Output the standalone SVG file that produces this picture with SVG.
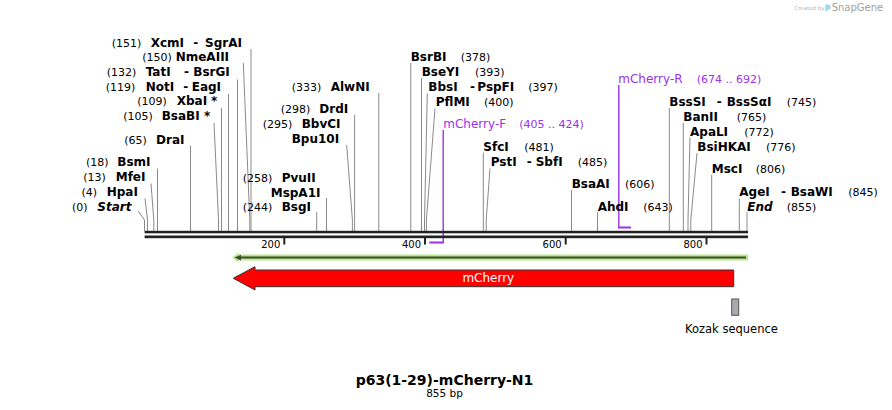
<svg xmlns="http://www.w3.org/2000/svg" width="892" height="410" viewBox="0 0 892 410">
<style>
text{font-family:"DejaVu Sans",Verdana,sans-serif;fill:#000}
.b{font-size:12px;font-weight:bold}
.n{font-size:11px;font-weight:normal}
.i{font-style:italic}
.p{fill:#9b30e8;font-weight:normal}
.cut{stroke:#8a8a8a;stroke-width:1;fill:none}
.pv{stroke:#9b30e8;stroke-width:1.4;fill:none}
.pb{stroke:#9b30e8;stroke-width:2;fill:none}
.tk{font-size:10px}
</style>
<rect width="892" height="410" fill="#fff"/>

<g id="watermark">
<text x="794.3" y="10" style="font-size:5.5px;fill:#b8b8b8">Created by</text>
<path d="M825.5 4.5 h2.5 a2.6 2.6 0 0 1 0 5.2 h-0.6 v1.8 h-1.9 z" fill="#9ad8f5"/>
<text x="831.7" y="11" style="font-size:10px;fill:#a0a0a0">SnapGene</text>
</g>

<g id="connectors">
<path class="cut" d="M138.3 211 L144.5 220 V231"/>
<path class="cut" d="M145 198.5 L147.5 220 V231"/>
<path class="cut" d="M151 183.5 L153.8 220 V231"/>
<path class="cut" d="M157.5 168.5 V231"/>
<path class="cut" d="M190.5 145.5 V231"/>
<path class="cut" d="M214 123 L218.5 220 V231"/>
<path class="cut" d="M221.5 108 V231"/>
<path class="cut" d="M228.5 94 V231"/>
<path class="cut" d="M237.5 79.5 V231"/>
<path class="cut" d="M243.3 63 L249.8 220 V231"/>
<path class="cut" d="M251 49 V231"/>
<path class="cut" d="M316.7 212 V231"/>
<path class="cut" d="M326.5 198 V231"/>
<path class="cut" d="M346.7 145 L352.4 220 V231"/>
<path class="cut" d="M354.6 115 V231"/>
<path class="cut" d="M378.8 93 V231"/>
<path class="cut" d="M410.8 63 V231"/>
<path class="cut" d="M421.5 78 V231"/>
<path class="cut" d="M427.3 93.5 L424.5 220 V231"/>
<path class="cut" d="M435 108.5 L426.4 220 V231"/>
<path class="cut" d="M483.3 152.5 V231"/>
<path class="cut" d="M490 168.5 L486.2 220 V231"/>
<path class="cut" d="M571.5 190 V231"/>
<path class="cut" d="M597.5 212 V231"/>
<path class="cut" d="M669.3 108 V231"/>
<path class="cut" d="M683.3 123 V231"/>
<path class="cut" d="M690 137.5 L688 220 V231"/>
<path class="cut" d="M697 153 L690.8 220 V231"/>
<path class="cut" d="M711.7 175 V231"/>
<path class="cut" d="M739.3 198.5 V231"/>
<path class="cut" d="M747 212 V231"/>
<path class="pv" d="M443.2 130 V242.5"/>
<path class="pb" d="M443.9 242.5 H429.3"/>
<path class="pv" d="M618.8 85 V227.5"/>
<path class="pb" d="M618.1 227.5 H631"/>
</g>

<g id="backbone">
<rect x="144.6" y="230.8" width="603.4" height="2.5" fill="#222"/>
<rect x="144.6" y="235.5" width="603.4" height="2.7" fill="#222"/>
<rect x="283.3" y="238" width="2" height="6.5" fill="#222"/>
<rect x="424" y="238" width="2" height="6.5" fill="#222"/>
<rect x="564.7" y="238" width="2" height="6.5" fill="#222"/>
<rect x="705.5" y="238" width="2" height="6.5" fill="#222"/>
<text class="tk" x="280.3" y="247.5" text-anchor="end">200</text>
<text class="tk" x="421" y="247.5" text-anchor="end">400</text>
<text class="tk" x="561.7" y="247.5" text-anchor="end">600</text>
<text class="tk" x="702.5" y="247.5" text-anchor="end">800</text>
</g>

<g id="XcmI"><text class="b" y="46.5"><tspan class="n" x="111.7">(151)</tspan><tspan x="150.7">XcmI</tspan><tspan x="193.3">-</tspan><tspan x="205">SgrAI</tspan></text></g>
<g id="NmeAIII"><text class="b" y="61"><tspan class="n" x="142.3">(150)</tspan><tspan x="175.7">NmeAIII</tspan></text></g>
<g id="TatI"><text class="b" y="76"><tspan class="n" x="106.7">(132)</tspan><tspan x="145.7">TatI</tspan><tspan x="184">-</tspan><tspan x="193.3">BsrGI</tspan></text></g>
<g id="NotI"><text class="b" y="90.8"><tspan class="n" x="105.7">(119)</tspan><tspan x="145.7">NotI</tspan><tspan x="183.3">-</tspan><tspan x="191.7">EagI</tspan></text></g>
<g id="XbaI"><text class="b" y="105.3"><tspan class="n" x="137.3">(109)</tspan><tspan x="176.7">XbaI</tspan><tspan x="211">*</tspan></text></g>
<g id="BsaBI"><text class="b" y="120.3"><tspan class="n" x="123.3">(105)</tspan><tspan x="161.7">BsaBI</tspan><tspan x="204">*</tspan></text></g>
<g id="DraI"><text class="b" y="143.5"><tspan class="n" x="124.3">(65)</tspan><tspan x="156">DraI</tspan></text></g>
<g id="BsmI"><text class="b" y="166.3"><tspan class="n" x="86">(18)</tspan><tspan x="117.3">BsmI</tspan></text></g>
<g id="MfeI"><text class="b" y="181"><tspan class="n" x="83.3">(13)</tspan><tspan x="115.7">MfeI</tspan></text></g>
<g id="HpaI"><text class="b" y="195.7"><tspan class="n" x="81.5">(4)</tspan><tspan x="106.7">HpaI</tspan></text></g>
<g id="Start"><text class="b" y="210.7"><tspan class="n" x="72">(0)</tspan><tspan class="i" x="97.3">Start</tspan></text></g>

<g id="AlwNI"><text class="b" y="90.8"><tspan class="n" x="291.7">(333)</tspan><tspan x="330.7">AlwNI</tspan></text></g>
<g id="DrdI"><text class="b" y="113.3"><tspan class="n" x="280.7">(298)</tspan><tspan x="319.3">DrdI</tspan></text></g>
<g id="BbvCI"><text class="b" y="128.2"><tspan class="n" x="262.7">(295)</tspan><tspan x="301.7">BbvCI</tspan></text></g>
<g id="Bpu10I"><text class="b" x="291.7" y="143.2">Bpu10I</text></g>
<g id="PvuII"><text class="b" y="181.7"><tspan class="n" x="242.7">(258)</tspan><tspan x="281.7">PvuII</tspan></text></g>
<g id="MspA1I"><text class="b" x="270.7" y="196.6">MspA1I</text></g>
<g id="BsgI"><text class="b" y="210.7"><tspan class="n" x="242.7">(244)</tspan><tspan x="281.7">BsgI</tspan></text></g>

<g id="BsrBI"><text class="b" y="60.7"><tspan x="410.7">BsrBI</tspan><tspan class="n" x="460.7">(378)</tspan></text></g>
<g id="BseYI"><text class="b" y="75.7"><tspan x="421.7">BseYI</tspan><tspan class="n" x="475">(393)</tspan></text></g>
<g id="BbsI"><text class="b" y="90.8"><tspan x="428.3">BbsI</tspan><tspan x="470">-</tspan><tspan x="477.3">PspFI</tspan><tspan class="n" x="528.3">(397)</tspan></text></g>
<g id="PflMI"><text class="b" y="105.7"><tspan x="435.7">PflMI</tspan><tspan class="n" x="484">(400)</tspan></text></g>
<g id="mCherry-F"><text class="b p" y="127.6"><tspan x="443.3">mCherry-F</tspan><tspan class="n p" x="519.3">(405 .. 424)</tspan></text></g>
<g id="SfcI"><text class="b" y="151"><tspan x="483.3">SfcI</tspan><tspan class="n" x="524.3">(481)</tspan></text></g>
<g id="PstI"><text class="b" y="166.2"><tspan x="490.7">PstI</tspan><tspan x="526.7">-</tspan><tspan x="535.7">SbfI</tspan><tspan class="n" x="577.7">(485)</tspan></text></g>
<g id="BsaAI"><text class="b" y="187.8"><tspan x="571.7">BsaAI</tspan><tspan class="n" x="625">(606)</tspan></text></g>
<g id="AhdI"><text class="b" y="210.7"><tspan x="597.7">AhdI</tspan><tspan class="n" x="643.3">(643)</tspan></text></g>
<g id="mCherry-R"><text class="b p" y="83"><tspan x="618.3">mCherry-R</tspan><tspan class="n p" x="696.7">(674 .. 692)</tspan></text></g>
<g id="BssSI"><text class="b" y="105.8"><tspan x="669.3">BssSI</tspan><tspan x="716.7">-</tspan><tspan x="726.7">BssSαI</tspan><tspan class="n" x="786.7">(745)</tspan></text></g>
<g id="BanII"><text class="b" y="120.8"><tspan x="683.3">BanII</tspan><tspan class="n" x="736.7">(765)</tspan></text></g>
<g id="ApaLI"><text class="b" y="135.5"><tspan x="690">ApaLI</tspan><tspan class="n" x="744.3">(772)</tspan></text></g>
<g id="BsiHKAI"><text class="b" y="150.8"><tspan x="697.3">BsiHKAI</tspan><tspan class="n" x="766">(776)</tspan></text></g>
<g id="MscI"><text class="b" y="172.7"><tspan x="711.7">MscI</tspan><tspan class="n" x="755.7">(806)</tspan></text></g>
<g id="AgeI"><text class="b" y="196.3"><tspan x="739.3">AgeI</tspan><tspan x="781">-</tspan><tspan x="790.7">BsaWI</tspan><tspan class="n" x="848.3">(845)</tspan></text></g>
<g id="End"><text class="b" y="210.8"><tspan class="i" x="747.3">End</tspan><tspan class="n" x="786.7">(855)</tspan></text></g>

<g id="orf">
<path d="M232.3 257.5 L238.5 252.6 V254.6 H748 V260.6 H238.5 V262.4 Z" fill="#b8e88a"/>
<path d="M240 257.6 H746" stroke="#3b4a30" stroke-width="2" fill="none"/>
<path d="M234.5 257.6 L241 254.8 V260.4 Z" fill="#3b4a30"/>
</g>

<g id="mCherry">
<path d="M233.3 278.3 L255 266.7 V270 H733.7 V286.7 H255 V290 Z" fill="#ff0000" stroke="#333" stroke-width="1"/>
<text x="488.3" y="282.3" text-anchor="middle" style="font-size:12px;fill:#fff">mCherry</text>
</g>

<g id="kozak">
<rect x="731.7" y="299" width="7" height="16.3" fill="#a7abb0" stroke="#555" stroke-width="1"/>
<text x="685" y="332.5" style="font-size:11.5px">Kozak sequence</text>
</g>

<g id="title">
<text x="444.5" y="385" text-anchor="middle" style="font-size:14px;font-weight:bold">p63(1-29)-mCherry-N1</text>
<text x="444.5" y="396.7" text-anchor="middle" style="font-size:10.5px">855 bp</text>
</g>
</svg>
